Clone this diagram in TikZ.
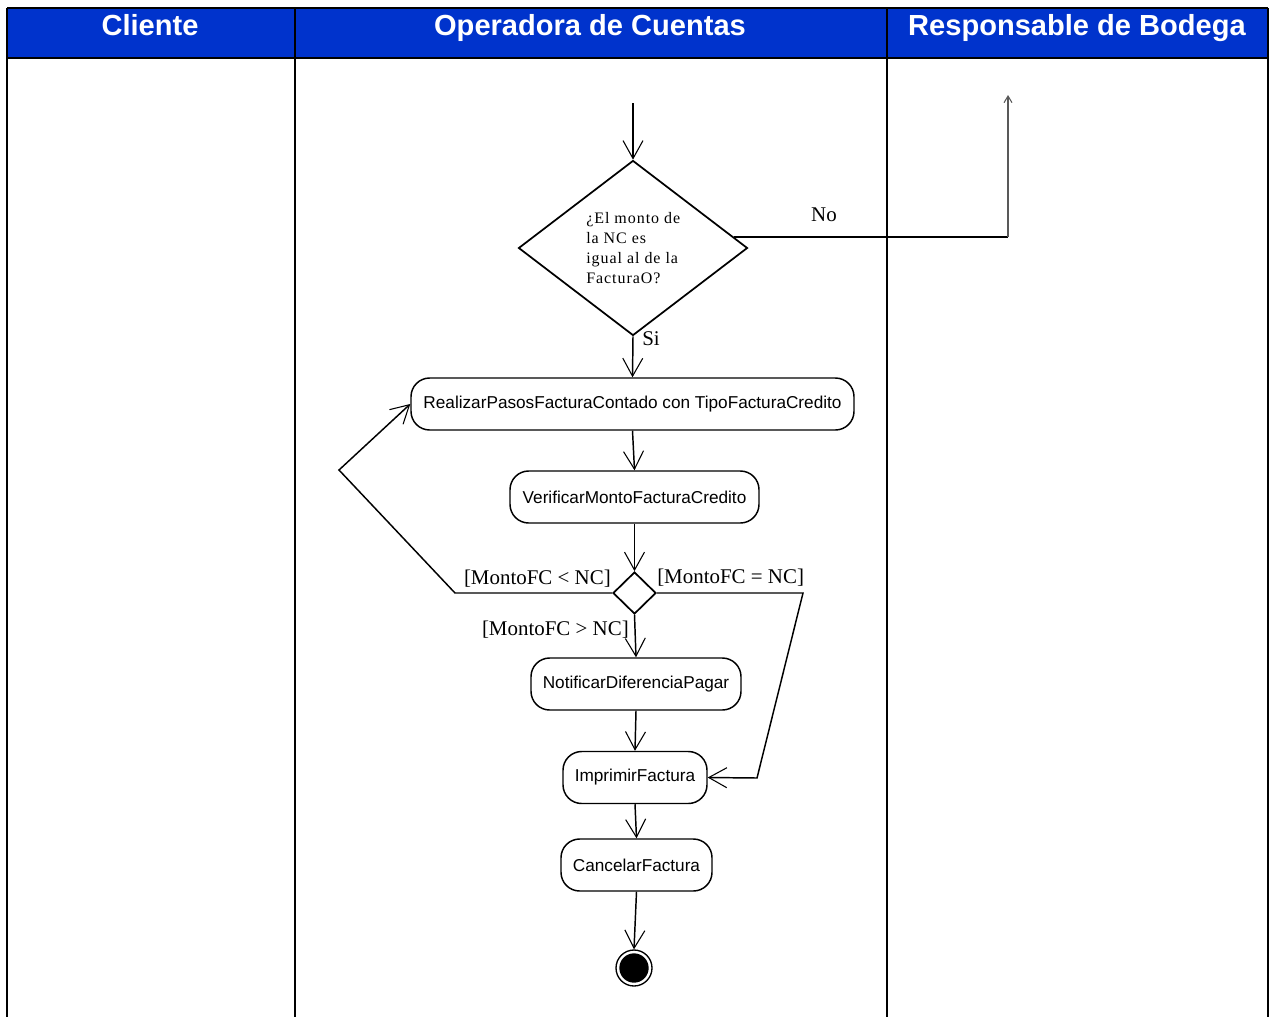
\documentclass[tikz,border=0pt]{standalone}
\usepackage{fontspec}
\setmainfont{Liberation Serif}
\setsansfont{Liberation Sans}
\newfontfamily\spacedserif[LetterSpace=6]{Liberation Serif}
\usetikzlibrary{shapes.geometric,arrows.meta,calc}
\definecolor{hdrblue}{RGB}{0,51,204}
\tikzset{
  act/.style={draw,line width=1.1pt,rounded corners=14pt,minimum height=39pt,inner sep=0pt,font=\sffamily\fontsize{12.9pt}{15pt}\selectfont},
  flow/.style={line width=1.1pt,-{Straight Barb[length=13.5pt,width=15pt,line width=0.8pt]}},
  seg/.style={line width=1.1pt},
  guard/.style={font=\fontsize{15.7pt}{18pt}\selectfont,inner sep=0pt},
  hdr/.style={font=\sffamily\bfseries\fontsize{21.8pt}{26pt}\selectfont,text=white,inner sep=0pt,anchor=base},
  lane/.style={line width=1.5pt}
}
\begin{document}
\begin{tikzpicture}[x=0.75pt,y=-0.75pt]
\useasboundingbox (0,0) rectangle (1270,1017);
% header
\fill[hdrblue] (7,8) rectangle (1268,58);
\draw[lane] (7,8) -- (1268,8);
\draw[lane] (7,58) -- (1268,58);
\foreach \x in {7,295,887,1268} \draw[lane] (\x,8) -- (\x,1017);
\node[hdr] (h1) at (150,35) {Cliente};
\node[hdr] (h2) at (590,35) {Operadora de Cuentas};
\node[hdr] (h3) at (1077,35) {Responsable de Bodega};
% nodes
\coordinate (start) at (633,103);
\node[draw,diamond,line width=1.3pt,inner sep=0pt,minimum width=171.75pt,minimum height=131.25pt] (d1) at (633,248) {};
\node[align=left,inner sep=0pt,anchor=west,font=\spacedserif\fontsize{12pt}{15pt}\selectfont] (d1t) at (586,248) {¿El monto de\\la NC es\\igual al de la\\FacturaO?};
\node[act,minimum width=332.25pt] (a1) at (632.5,404) {RealizarPasosFacturaContado con TipoFacturaCredito};
\node[act,minimum width=186.75pt] (a2) at (634.5,497) {VerificarMontoFacturaCredito};
\node[draw,diamond,line width=1.3pt,inner sep=0pt,minimum width=32.25pt,minimum height=31.5pt] (d2) at (634.5,593) {};
\node[act,minimum width=157.5pt] (a3) at (636,684) {NotificarDiferenciaPagar};
\node[act,minimum width=108pt] (a4) at (635,777.5) {ImprimirFactura};
\node[act,minimum width=113.25pt] (a5) at (636.5,865) {CancelarFactura};
\node[draw,circle,line width=1pt,minimum size=27pt,inner sep=0pt] (fin) at (634,968) {};
\fill (fin.center) circle (11pt);
% connectors
\draw[flow] (start) -- (d1.north);
\coordinate (noend) at (1008,95);
\coordinate (nostart) at ($(d1.north)!0.875!(d1.east)$);
\draw[seg] (nostart) -- (nostart -| noend);
\draw[gray!70!black,line width=0.8pt,-{Straight Barb[length=5pt,width=6pt]}] (nostart -| noend) -- (noend);
\node[guard] (lno) at (824,215) {No};
\draw[flow] (d1.south) -- (a1.north);
\node[guard,anchor=west] (lsi) at (642,339) {Si};
\draw[flow] (a1.south) -- (a2.north);
\draw[flow] (a2.south) -- (d2.north);
\coordinate (lb1) at (455,593);
\coordinate (lb2) at (339,470);
\draw[flow] (d2.west) -- (lb1) -- (lb2) -- (a1.west);
\coordinate (rb1) at (803,593);
\coordinate (rb2) at (757,778);
\draw[flow] (d2.east) -- (rb1) -- (rb2) -- (a4.east);
\draw[flow] (d2.south) -- (a3.north);
\node[guard,anchor=east] (llt) at (611,579) {[MontoFC < NC]};
\node[guard,anchor=west] (leq) at (657,578) {[MontoFC = NC]};
\node[guard,anchor=east] (lgt) at (629,630) {[MontoFC > NC]};
\draw[flow] (a3.south) -- (a4.north);
\draw[flow] (a4.south) -- (a5.north);
\draw[flow] (a5.south) -- (fin.north);
\end{tikzpicture}
\end{document}
